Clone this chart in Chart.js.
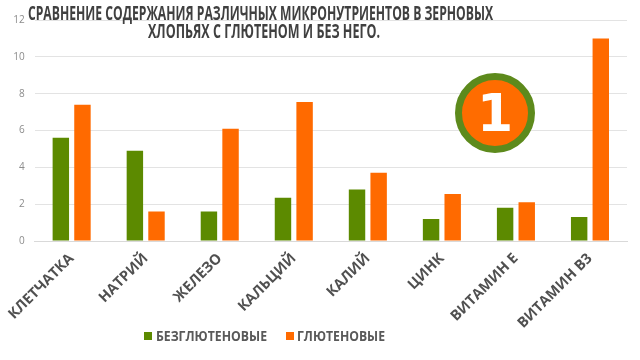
<!DOCTYPE html>
<html>
<head>
<meta charset="utf-8">
<script src="https://cdn.jsdelivr.net/npm/chart.js@4.4.1/dist/chart.umd.min.js"></script>
<style>
html,body{margin:0;padding:0;background:#fff;}
#wrap{position:relative;width:640px;height:360px;overflow:hidden;font-family:"Open Sans",sans-serif;}
#c{position:absolute;left:0;top:0;}
.fit{position:absolute;white-space:nowrap;font-weight:700;transform-origin:0 0;}
.title{color:#404040;font-size:19px;line-height:19px;}
.leg{color:#595959;font-size:15px;line-height:15px;}
.sq{position:absolute;width:8px;height:8px;}
#badge{position:absolute;left:455px;top:73px;width:80px;height:80px;box-sizing:border-box;border:7px solid #5d8a1c;border-radius:50%;background:#ff6c00;color:#fff;font-family:"DejaVu Sans",sans-serif;font-weight:700;font-size:52px;line-height:66px;text-align:center;}
</style>
</head>
<body>
<div id="wrap">
<canvas id="c" width="640" height="360"></canvas>
<div class="fit title" id="t1">СРАВНЕНИЕ СОДЕРЖАНИЯ РАЗЛИЧНЫХ МИКРОНУТРИЕНТОВ В ЗЕРНОВЫХ</div>
<div class="fit title" id="t2">ХЛОПЬЯХ С ГЛЮТЕНОМ И БЕЗ НЕГО.</div>
<div id="badge">1</div>
<div class="sq" id="sq1" style="left:144px;top:332px;"></div>
<div class="fit leg" id="l1"></div>
<div class="sq" id="sq2" style="left:286px;top:332px;"></div>
<div class="fit leg" id="l2"></div>
</div>
<script>
const categories = ['КЛЕТЧАТКА','НАТРИЙ','ЖЕЛЕЗО','КАЛЬЦИЙ','КАЛИЙ','ЦИНК','ВИТАМИН Е','ВИТАМИН В3'];
const seriesNames = ['БЕЗГЛЮТЕНОВЫЕ','ГЛЮТЕНОВЫЕ'];
const glutenFree = [5.6, 4.9, 1.6, 2.35, 2.8, 1.2, 1.8, 1.3];
const gluten = [7.4, 1.6, 6.1, 7.55, 3.7, 2.55, 2.1, 11.0];
const yTickValues = [0, 2, 4, 6, 8, 10, 12];
const colors = ['#5c8a00', '#ff6a00'];

document.getElementById('l1').textContent = seriesNames[0];
document.getElementById('l2').textContent = seriesNames[1];
document.getElementById('sq1').style.background = colors[0];
document.getElementById('sq2').style.background = colors[1];

function fit(id, left, width, baseline) {
  const el = document.getElementById(id);
  const fs = parseFloat(getComputedStyle(el).fontSize);
  const w = el.getBoundingClientRect().width;
  el.style.transform = 'scaleX(' + (width / w) + ')';
  el.style.left = left + 'px';
  const base = (fs - 1.362 * fs) / 2 + 1.069 * fs;
  el.style.top = (baseline - base) + 'px';
}
fit('t1', 28, 465, 20.7);
fit('t2', 148, 232, 39.3);
fit('l1', 156, 111, 341.7);
fit('l2', 297, 88, 341.7);

new Chart(document.getElementById('c'), {
  type: 'bar',
  data: {
    labels: categories,
    datasets: [
      { label: seriesNames[0], data: glutenFree, backgroundColor: colors[0], categoryPercentage: 0.584, barPercentage: 0.76 },
      { label: seriesNames[1], data: gluten, backgroundColor: colors[1], categoryPercentage: 0.584, barPercentage: 0.76 }
    ]
  },
  options: {
    responsive: false,
    animation: false,
    layout: { padding: { top: 20, right: 13, left: 0, bottom: 0 } },
    plugins: { legend: { display: false }, title: { display: false }, tooltip: { enabled: false } },
    scales: {
      y: {
        min: 0, max: 12,
        afterFit: s => { s.width = 32; },
        afterBuildTicks: s => { s.ticks = yTickValues.map(v => ({ value: v })); },
        ticks: { color: '#8c8c8c', font: { family: 'Open Sans', size: 10 }, padding: 10 },
        grid: { color: '#e3e3e3', drawTicks: false },
        border: { display: false }
      },
      x: {
        afterFit: s => { s.height = 119; },
        grid: { display: false, drawTicks: false },
        border: { color: '#d9d9d9' },
        ticks: { autoSkip: false, minRotation: 45, maxRotation: 45, color: '#505050', font: { family: 'Open Sans', size: 14.5, weight: '700' }, padding: 9 }
      }
    }
  }
});
</script>
</body>
</html>
